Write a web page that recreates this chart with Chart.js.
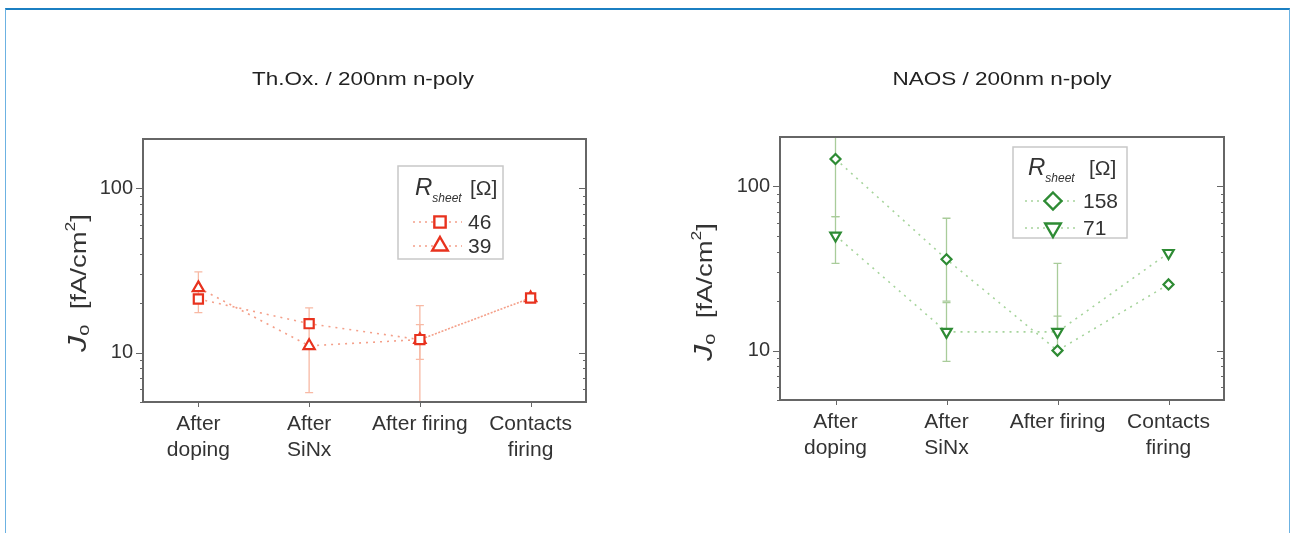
<!DOCTYPE html>
<html>
<head>
<meta charset="utf-8">
<script src="https://cdn.jsdelivr.net/npm/chart.js@4.4.1/dist/chart.umd.min.js"></script>
<style>
  html, body { margin: 0; padding: 0; background: #fff; }
  #page { position: relative; width: 1296px; height: 533px; overflow: hidden; }
  #frame { position: absolute; left: 5px; top: 8px; width: 1285px; height: 600px;
           border: 1px solid #6cb2e2; border-top: 2px solid #1b7fc2; box-sizing: border-box; }
  .box { position: absolute; top: 0; width: 648px; height: 533px; }
</style>
</head>
<body>
<div id="page">
  <div id="frame"></div>
  <div class="box" style="left:0"><canvas id="leftChart"></canvas></div>
  <div class="box" style="left:648px"><canvas id="rightChart"></canvas></div>
</div>
<script>
const FONT = "Arial, 'Liberation Sans', sans-serif";

const categories = [["After", "doping"], ["After", "SiNx"], "After firing", ["Contacts", "firing"]];
const yTickValues = [10, 100];
const yMinorTicks = [5, 6, 7, 8, 9, 20, 30, 40, 50, 60, 70, 80, 90];

// Th.Ox. / 200nm n-poly
const thoxLabels = ["46", "39"];
const thox46 = [21.2, 15.0, 12.0, 21.5];
const thox39 = [24.8, 11.0, 12.0, 21.5];
const thox46Err = [null, null, [9.1, 14.8], null];
const thox39Err = [[17.5, 31], [5.7, 18.7], [4, 19.3], null];

// NAOS / 200nm n-poly
const naosLabels = ["158", "71"];
const naos158 = [147, 36, 10.0, 25.3];
const naos71 = [50.2, 13.0, 13.0, 39.3];
const naos158Err = [[65.5, 330], [20, 64], [10, 16.2], null];
const naos71Err = [[34, 65.5], [8.6, 19.6], [13, 34], null];

function drawMarker(ctx, style, x, y, r) {
  ctx.beginPath();
  if (style === "rect") {
    const s = r * Math.SQRT1_2;
    ctx.rect(x - s, y - s, 2 * s, 2 * s);
  } else if (style === "rectRot") {
    ctx.moveTo(x, y - r); ctx.lineTo(x + r, y); ctx.lineTo(x, y + r); ctx.lineTo(x - r, y);
    ctx.closePath();
  } else if (style === "triangle") {
    ctx.moveTo(x, y - r);
    ctx.lineTo(x + r * 0.866, y + r * 0.5);
    ctx.lineTo(x - r * 0.866, y + r * 0.5);
    ctx.closePath();
  } else if (style === "triangleDown") {
    ctx.moveTo(x, y + r);
    ctx.lineTo(x + r * 0.866, y - r * 0.5);
    ctx.lineTo(x - r * 0.866, y - r * 0.5);
    ctx.closePath();
  }
  ctx.fillStyle = "#fff";
  ctx.fill();
  ctx.stroke();
}

function drawRich(ctx, parts, x, y) {
  parts.forEach((p) => {
    ctx.font = p.f;
    ctx.fillText(p.t, x, y + (p.dy || 0));
    x += ctx.measureText(p.t).width;
  });
}

function richWidth(ctx, parts) {
  let w = 0;
  parts.forEach((p) => { ctx.font = p.f; w += ctx.measureText(p.t).width; });
  return w;
}

const panelPlugin = {
  id: "panel",
  beforeDatasetsDraw(chart, args, o) {
    const { ctx, chartArea: a } = chart;
    const x = chart.scales.x, y = chart.scales.y;
    // error bars
    ctx.save();
    ctx.beginPath();
    ctx.rect(a.left, a.top, a.right - a.left, a.bottom - a.top);
    ctx.clip();
    ctx.strokeStyle = o.errColor;
    ctx.lineWidth = 1.3;
    chart.data.datasets.forEach((ds) => {
      (ds.errorBars || []).forEach((e, i) => {
        if (!e) return;
        const px = x.getPixelForValue(i);
        const y0 = y.getPixelForValue(e[0]);
        const y1 = y.getPixelForValue(e[1]);
        ctx.beginPath();
        ctx.moveTo(px, y0); ctx.lineTo(px, y1);
        ctx.moveTo(px - 4, y0); ctx.lineTo(px + 4, y0);
        ctx.moveTo(px - 4, y1); ctx.lineTo(px + 4, y1);
        ctx.stroke();
      });
    });
    ctx.restore();
  },
  afterDraw(chart, args, o) {
    const { ctx, chartArea: a } = chart;
    const x = chart.scales.x, y = chart.scales.y;
    ctx.save();
    // frame box
    ctx.strokeStyle = "#666";
    ctx.lineWidth = 2;
    ctx.strokeRect(a.left, a.top, a.right - a.left, a.bottom - a.top);
    // ticks
    ctx.lineWidth = 1;
    ctx.beginPath();
    yTickValues.forEach((v) => {
      const py = Math.round(y.getPixelForValue(v)) + 0.5;
      ctx.moveTo(a.left - 7, py); ctx.lineTo(a.left, py);
      ctx.moveTo(a.right - 7, py); ctx.lineTo(a.right, py);
    });
    yMinorTicks.forEach((v) => {
      const py = Math.round(y.getPixelForValue(v)) + 0.5;
      ctx.moveTo(a.left - 3, py); ctx.lineTo(a.left, py);
      ctx.moveTo(a.right - 3, py); ctx.lineTo(a.right, py);
    });
    categories.forEach((c, i) => {
      const px = Math.round(x.getPixelForValue(i)) + 0.5;
      ctx.moveTo(px, a.bottom); ctx.lineTo(px, a.bottom + 5);
    });
    ctx.stroke();

    // panel title, stretched to the width seen in the figure
    ctx.fillStyle = "#222";
    ctx.font = "18px " + FONT;
    ctx.textAlign = "center";
    ctx.textBaseline = "middle";
    const tw = ctx.measureText(o.title).width;
    ctx.save();
    ctx.translate(o.titleX, o.titleY);
    ctx.scale(o.titleW / tw, 1);
    ctx.fillText(o.title, 0, 0);
    ctx.restore();

    // y axis title
    ctx.textAlign = "left";
    ctx.textBaseline = "alphabetic";
    ctx.fillStyle = "#333";
    const yParts = [
      { t: "J", f: "italic 26px " + FONT },
      { t: "o", f: "16px " + FONT, dy: 3 },
      { t: "  [fA/cm", f: "22px " + FONT },
      { t: "2", f: "14px " + FONT, dy: -11 },
      { t: "]", f: "22px " + FONT },
    ];
    const yw = richWidth(ctx, yParts);
    ctx.save();
    ctx.translate(o.yTitleX, o.yTitleY);
    ctx.rotate(-Math.PI / 2);
    ctx.scale(o.yTitleLen / yw, 1);
    drawRich(ctx, yParts, -yw / 2, 0);
    ctx.restore();

    // legend
    const L = o.legend;
    ctx.strokeStyle = "#c8c8c8";
    ctx.lineWidth = 1.5;
    ctx.fillStyle = "#fff";
    ctx.fillRect(L.x, L.y, L.w, L.h);
    ctx.strokeRect(L.x, L.y, L.w, L.h);
    ctx.fillStyle = "#333";
    drawRich(ctx, [
      { t: "R", f: "italic 24px " + FONT },
      { t: "sheet", f: "italic 12px " + FONT, dy: 7 },
    ], L.x + L.rX, L.y + L.headY);
    ctx.font = "21px " + FONT;
    ctx.fillText("[Ω]", L.x + L.omegaX, L.y + L.headY);
    chart.data.datasets.forEach((ds, i) => {
      const ry = L.y + L.rowY[i];
      ctx.save();
      ctx.strokeStyle = ds.borderColor;
      ctx.lineWidth = 1.5;
      ctx.setLineDash([2, 4]);
      ctx.beginPath();
      ctx.moveTo(L.x + L.lineX0, ry); ctx.lineTo(L.x + L.lineX1, ry);
      ctx.stroke();
      ctx.restore();
      ctx.strokeStyle = ds.pointBorderColor;
      ctx.lineWidth = 2.4;
      drawMarker(ctx, ds.legendStyle, L.x + L.markX, ry, L.markR[i]);
      ctx.fillStyle = "#333";
      ctx.font = "21px " + FONT;
      ctx.textBaseline = "middle";
      ctx.fillText(ds.label, L.x + L.textX, ry + 1);
      ctx.textBaseline = "alphabetic";
    });
    ctx.restore();
  },
};

function series(label, values, errors, style, rotation, radius, lineColor, markColor, legendStyle) {
  return {
    label: label,
    data: values,
    errorBars: errors,
    legendStyle: legendStyle,
    borderColor: lineColor,
    borderWidth: 1.6,
    borderDash: [2, 5],
    pointStyle: style,
    rotation: rotation,
    pointRadius: radius,
    pointHoverRadius: radius,
    pointBorderColor: markColor,
    pointBackgroundColor: "#fff",
    pointBorderWidth: 2.2,
    tension: 0,
  };
}

function makeChart(id, datasets, pad, panel) {
  return new Chart(document.getElementById(id), {
    type: "line",
    data: { labels: categories, datasets: datasets },
    options: {
      responsive: true,
      maintainAspectRatio: false,
      animation: false,
      layout: { padding: pad },
      plugins: { legend: { display: false }, tooltip: { enabled: false }, panel: panel },
      scales: {
        x: {
          type: "category",
          offset: true,
          grid: { display: false, drawTicks: false },
          border: { display: false },
          afterFit: (s) => { s.height = 70; },
          ticks: {
            padding: 10,
            maxRotation: 0,
            autoSkip: false,
            color: "#333",
            font: { family: FONT, size: 21, lineHeight: 1.2 },
          },
        },
        y: {
          type: "logarithmic",
          min: 5,
          max: 200,
          grid: { display: false, drawTicks: false },
          border: { display: false },
          afterFit: (s) => { s.width = 60; },
          afterBuildTicks: (s) => { s.ticks = yTickValues.map((v) => ({ value: v })); },
          ticks: {
            padding: 10,
            color: "#333",
            font: { family: FONT, size: 20 },
            callback: (v) => String(v),
          },
        },
      },
    },
    plugins: [panelPlugin],
  });
}

makeChart("leftChart", [
  series(thoxLabels[0], thox46, thox46Err, "rect", 0, 6.5, "#f4a08a", "#e8321e", "rect"),
  series(thoxLabels[1], thox39, thox39Err, "triangle", 0, 6.5, "#f4a08a", "#e8321e", "triangle"),
], { left: 83, right: 62, top: 139, bottom: 61 }, {
  title: "Th.Ox. / 200nm n-poly", titleX: 363, titleY: 80, titleW: 222,
  yTitleX: 86, yTitleY: 283, yTitleLen: 138,
  errColor: "#f8b9a4",
  legend: { x: 398, y: 166, w: 105, h: 93, rX: 17, headY: 29, omegaX: 72,
            rowY: [56, 80], lineX0: 15, lineX1: 64, markX: 42, markR: [8, 9], textX: 70 },
});

makeChart("rightChart", [
  series(naosLabels[0], naos158, naos158Err, "rectRot", 0, 5, "#a6d49c", "#2e8b34", "rectRot"),
  series(naosLabels[1], naos71, naos71Err, "triangle", 180, 6, "#a6d49c", "#2e8b34", "triangleDown"),
], { left: 72, right: 72, top: 137, bottom: 63 }, {
  title: "NAOS / 200nm n-poly", titleX: 354, titleY: 80, titleW: 219,
  yTitleX: 64, yTitleY: 292, yTitleLen: 138,
  errColor: "#a9cc9a",
  legend: { x: 365, y: 147, w: 114, h: 91, rX: 15, headY: 28, omegaX: 76,
            rowY: [54, 81], lineX0: 12, lineX1: 64, markX: 40, markR: [8.5, 9], textX: 70 },
});
</script>
</body>
</html>
